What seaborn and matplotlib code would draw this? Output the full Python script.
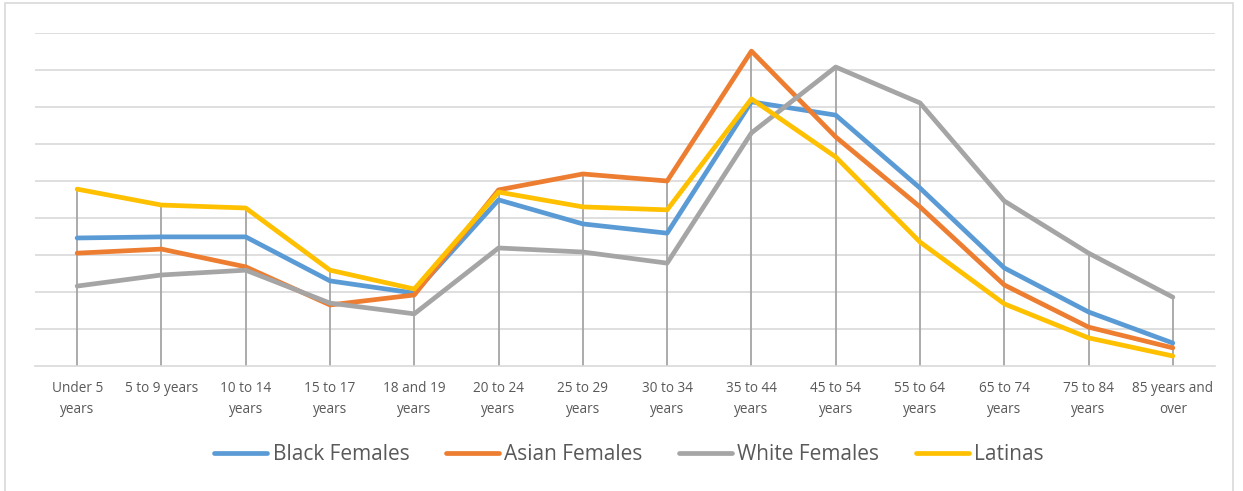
import pandas as pd
import matplotlib.pyplot as plt
import matplotlib.patches as mpatches
import seaborn as sns

# age groups on the x axis
age_groups = ["Under 5\nyears", "5 to 9 years", "10 to 14\nyears", "15 to 17\nyears",
              "18 and 19\nyears", "20 to 24\nyears", "25 to 29\nyears", "30 to 34\nyears",
              "35 to 44\nyears", "45 to 54\nyears", "55 to 64\nyears", "65 to 74\nyears",
              "75 to 84\nyears", "85 years and\nover"]

# values (units of one gridline step)
black_females = [3.46, 3.49, 3.49, 2.30, 1.97, 4.49, 3.84, 3.59, 7.14, 6.78, 4.81, 2.65, 1.46, 0.62]
asian_females = [3.05, 3.16, 2.68, 1.65, 1.92, 4.76, 5.19, 5.00, 8.51, 6.19, 4.30, 2.19, 1.05, 0.49]
white_females = [2.16, 2.46, 2.59, 1.70, 1.41, 3.19, 3.08, 2.78, 6.30, 8.08, 7.11, 4.46, 3.05, 1.86]
latinas = [4.78, 4.35, 4.27, 2.59, 2.08, 4.70, 4.30, 4.22, 7.22, 5.65, 3.35, 1.68, 0.76, 0.27]

series_names = ["Black Females", "Asian Females", "White Females", "Latinas"]
colors = ["#5B9BD5", "#ED7D31", "#A5A5A5", "#FFC000"]

wide = pd.DataFrame({
    "Black Females": black_females,
    "Asian Females": asian_females,
    "White Females": white_females,
    "Latinas": latinas,
})
wide["pos"] = range(len(age_groups))
data = wide.melt(id_vars="pos", var_name="group", value_name="value")

sns.set_style("white")
plt.rcParams["font.family"] = ["Open Sans", "DejaVu Sans"]

fig = plt.figure(figsize=(12.43, 4.91), dpi=100)
ax = fig.add_axes([35 / 1243, 1 - 366 / 491, 1180 / 1243, 333 / 491])

# gridlines
for g in range(1, 10):
    ax.axhline(g, color="#d9d9d9", lw=1.2, zorder=0)

# drop lines from the highest series to the axis
tops = wide[series_names].max(axis=1)
ax.vlines(wide["pos"], 0, tops, color="#a5a5a5", lw=1.3, zorder=1)

sns.lineplot(data=data, x="pos", y="value", hue="group", hue_order=series_names,
             palette=colors, lw=3.4, ax=ax, legend=False, zorder=3)

ax.set_xlim(-0.5, len(age_groups) - 0.5)
ax.set_ylim(0, 9)
ax.set_xticks(range(len(age_groups)))
ax.set_xticklabels(age_groups, fontsize=9.8, color="#595959", linespacing=1.5)
ax.tick_params(axis="x", length=0, pad=11)
ax.set_yticks([])
ax.set_xlabel("")
ax.set_ylabel("")
for side in ["top", "left", "right"]:
    ax.spines[side].set_visible(False)
ax.spines["bottom"].set_color("#d9d9d9")
ax.spines["bottom"].set_linewidth(1.2)

handles = [plt.Line2D([], [], color=c, lw=3.4, solid_capstyle="round") for c in colors]
fig.legend(handles, series_names, loc="center", bbox_to_anchor=(629 / 1243, 1 - 455 / 491),
           ncol=4, frameon=False, fontsize=15, handlelength=2.55, handletextpad=0.25,
           columnspacing=1.75, labelcolor="#595959")

# chart area border
fig.patches.append(mpatches.Rectangle((5 / 1243, -0.1), 1228 / 1243, 1.1 - 3 / 491,
                                      transform=fig.transFigure, fill=False,
                                      edgecolor="#d9d9d9", lw=1.2))

fig.savefig("out.png", dpi=100)
